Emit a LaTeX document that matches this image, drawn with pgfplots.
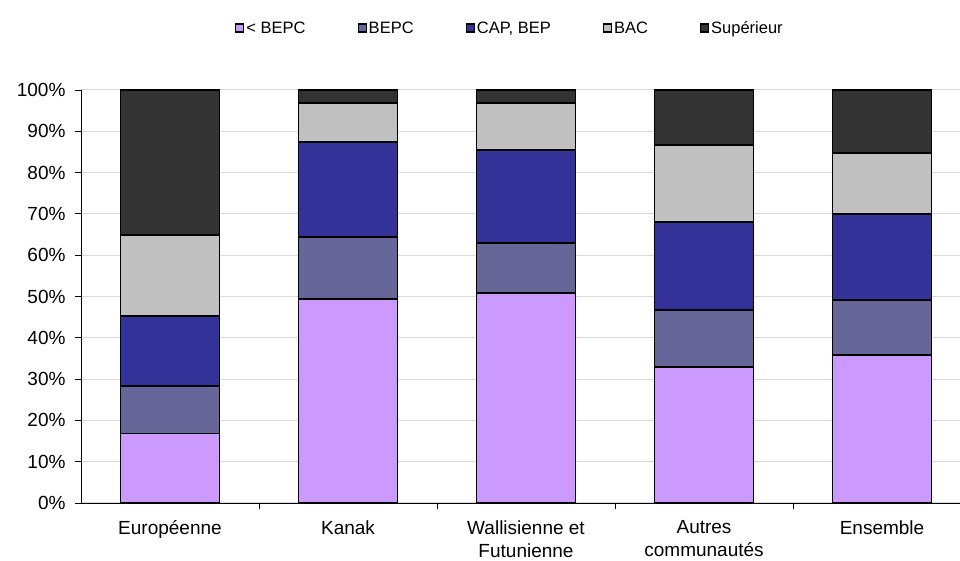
\documentclass[border=0pt]{standalone}
\usepackage{pgfplots}
\pgfplotsset{compat=1.18}
\usepackage{fontspec}
\setmainfont{Liberation Sans}
\definecolor{cA}{HTML}{CC99FF}
\definecolor{cB}{HTML}{666699}
\definecolor{cC}{HTML}{333399}
\definecolor{cD}{HTML}{C0C0C0}
\definecolor{cE}{HTML}{333333}
\definecolor{gridc}{HTML}{D9D9D9}
\begin{document}
\begin{tikzpicture}[x=1pt,y=1pt]
\useasboundingbox (0,0) rectangle (960,561);
\begin{axis}[
  at={(81pt,58pt)}, anchor=south west,
  scale only axis, width=879pt, height=413pt,
  ybar stacked, bar width=99pt,
  xmin=-0.5, xmax=4.438, ymin=0, ymax=100,
  clip=false,
  axis lines*=left,
  axis line style={black, line width=0.8pt},
  ytick={0,10,...,100},
  yticklabel={\pgfmathprintnumber{\tick}\%},
  /pgf/number format/assume math mode=true,
  ymajorgrids, grid style={gridc, line width=1pt},
  xtick={0,1,2,3,4},
  xticklabels={Européenne,Kanak,{Wallisienne et\\Futunienne},{Autres\\communautés},Ensemble},
  x tick label style={align=center, anchor=north, yshift=-8pt},
  major x tick style={draw=none},
  minor xtick={0.5,1.5,2.5,3.5},
  tick align=outside,
  major tick length=6pt, minor tick length=6pt,
  tick style={black, line width=0.8pt},
  ticklabel style={font=\fontsize{19}{23}\selectfont},
  y tick label style={xshift=-6pt},
  legend columns=-1,
  legend style={draw=none, at={(0.488,1.150)}, anchor=center,
    font=\fontsize{16.5}{20}\selectfont,
    /tikz/every even column/.append style={column sep=50pt},
    /tikz/every odd column/.append style={column sep=0pt},
    inner sep=0pt},
  every axis plot/.append style={draw=black, line width=1.6pt},
  sq/.style={legend image code/.code={\draw[##1, line width=1.2pt] (1pt,-4pt) rectangle (9pt,4pt);}},
]
\addplot[fill=cA, sq] coordinates {(0,16.8) (1,49.4) (2,50.8) (3,32.9) (4,35.8)};
\addplot[fill=cB, sq] coordinates {(0,11.5) (1,15.0) (2,12.2) (3,13.8) (4,13.4)};
\addplot[fill=cC, sq] coordinates {(0,17.0) (1,23.0) (2,22.5) (3,21.3) (4,20.8)};
\addplot[fill=cD, sq] coordinates {(0,19.6) (1,9.5) (2,11.4) (3,18.7) (4,14.7)};
\addplot[fill=cE, sq] coordinates {(0,35.1) (1,3.1) (2,3.1) (3,13.3) (4,15.3)};
\legend{{< BEPC},{BEPC},{CAP, BEP},{BAC},{Supérieur}}
\end{axis}
\end{tikzpicture}
\end{document}
